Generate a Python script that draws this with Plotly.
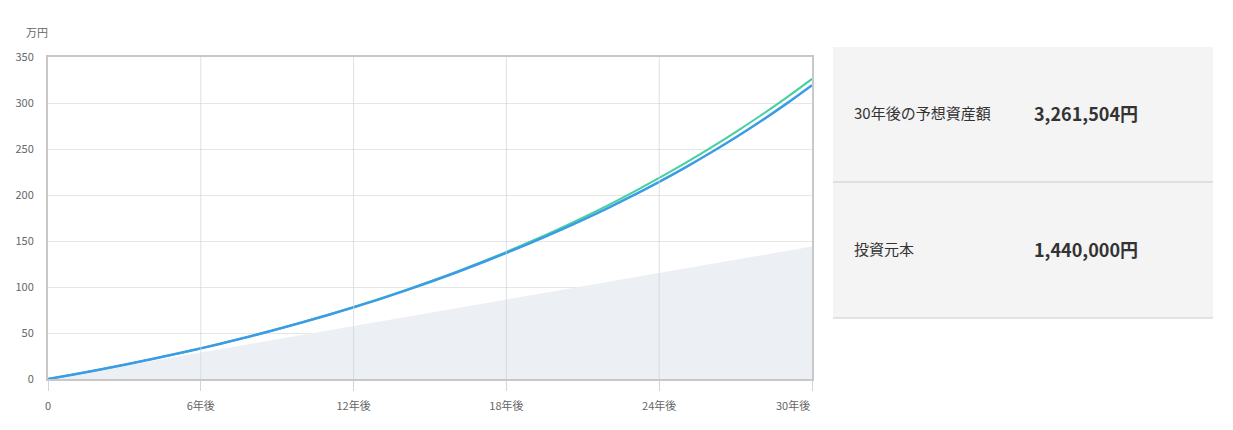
import plotly.graph_objects as go

# ---- data ----
years = list(range(0, 31))
expected_high = [0, 4.9, 10.1, 15.5, 21.2, 27.1, 33.4, 40.0, 46.9, 54.2, 61.8,
                 69.8, 78.2, 87.0, 96.3, 106.0, 116.2, 127.0, 138.2, 150.0, 162.4,
                 175.4, 189.1, 203.5, 218.6, 234.4, 251.0, 268.4, 286.7, 305.9, 326.2]
expected = [0, 4.9, 10.1, 15.5, 21.2, 27.1, 33.3, 39.9, 46.8, 54.0, 61.6,
            69.6, 77.9, 86.6, 95.8, 105.4, 115.5, 126.1, 137.1, 148.5, 160.5,
            173.0, 186.1, 199.8, 214.3, 229.5, 245.6, 262.5, 280.4, 299.3, 319.3]
principal = [0, 4.8, 9.6, 14.4, 19.2, 24.0, 28.8, 33.6, 38.4, 43.2, 48.0,
             52.8, 57.6, 62.4, 67.2, 72.0, 76.8, 81.6, 86.4, 91.2, 96.0,
             100.8, 105.6, 110.4, 115.2, 120.0, 124.8, 129.6, 134.4, 139.2, 144.0]
x_tickvals = [0, 6, 12, 18, 24, 30]
x_ticktext = ["0", "6年後", "12年後", "18年後", "24年後", "30年後"]
y_tickvals = [0, 50, 100, 150, 200, 250, 300, 350]
y_unit = "万円"
panel_labels = ["30年後の予想資産額", "投資元本"]
panel_values = ["3,261,504円", "1,440,000円"]

FONT = "Noto Sans CJK JP, Noto Sans, sans-serif"
W, H = 1233, 430
L, R, T, B = 48, 812, 57, 379  # plot area in pixels


def px(xp):
    return (xp - L) / (R - L)


def py(yp):
    return (B - yp) / (B - T)


fig = go.Figure()
fig.add_trace(go.Scatter(x=years, y=principal, mode="lines", line=dict(width=0, color="rgba(0,0,0,0)"),
                         fill="tozeroy", fillcolor="#eceff4", hoverinfo="skip", showlegend=False))
fig.add_trace(go.Scatter(x=years, y=expected_high, mode="lines", line=dict(width=2, color="#46cf9f", shape="spline"),
                         hoverinfo="skip", showlegend=False))
fig.add_trace(go.Scatter(x=years, y=expected, mode="lines", line=dict(width=2.5, color="#3a9be6", shape="spline"),
                         hoverinfo="skip", showlegend=False))

shapes = []
# vertical grid lines drawn above the fill
for v in x_tickvals[1:-1]:
    shapes.append(dict(type="line", xref="x", yref="y domain", x0=v, x1=v, y0=0, y1=1,
                       line=dict(color="rgba(205,210,222,0.7)", width=1), layer="above"))
# right panel
shapes.append(dict(type="rect", xref="paper", yref="paper", x0=px(833), x1=px(1213), y0=py(318), y1=py(47),
                   fillcolor="#f4f4f4", line=dict(width=0), layer="below"))
for yy in (182, 318):
    shapes.append(dict(type="line", xref="paper", yref="paper", x0=px(833), x1=px(1213), y0=py(yy), y1=py(yy),
                       line=dict(color="#cccccc", width=1)))

annotations = [
    dict(xref="paper", yref="paper", x=px(24), y=py(32), text=y_unit, showarrow=False,
         xanchor="left", yanchor="middle", font=dict(family=FONT, size=11, color="#666666")),
    dict(xref="x", yref="paper", x=x_tickvals[-1], y=py(405), text=x_ticktext[-1], showarrow=False,
         xanchor="right", yanchor="middle", font=dict(family=FONT, size=11, color="#666666")),
]
for lbl, val, yc in zip(panel_labels, panel_values, (112, 248)):
    annotations.append(dict(xref="paper", yref="paper", x=px(852), y=py(yc), text=lbl, showarrow=False,
                            xanchor="left", yanchor="middle", font=dict(family=FONT, size=15, color="#333333")))
    annotations.append(dict(xref="paper", yref="paper", x=px(1032), y=py(yc + 1), text="<b>" + val + "</b>",
                            showarrow=False, xanchor="left", yanchor="middle",
                            font=dict(family=FONT, size=18, color="#333333")))

fig.update_layout(
    width=W, height=H,
    margin=dict(l=L, r=W - R, t=T, b=H - B, pad=0),
    paper_bgcolor="white", plot_bgcolor="white",
    font=dict(family=FONT, size=11, color="#666666"),
    shapes=shapes, annotations=annotations,
    xaxis=dict(range=[0, 30], tickvals=x_tickvals, ticktext=x_ticktext[:-1] + [""],
               showgrid=False, zeroline=False, showline=True, linecolor="#c8c8c8", linewidth=2,
               mirror=True, ticks="outside", ticklen=10, tickcolor="#ccd6eb", tickwidth=1,
               ticklabelstandoff=6, fixedrange=True),
    yaxis=dict(range=[0, 350], tickvals=y_tickvals, showgrid=True, gridcolor="#e6e6e6", gridwidth=1,
               zeroline=False, showline=True, linecolor="#c8c8c8", linewidth=2, mirror=True,
               ticks="", ticklabelstandoff=10, fixedrange=True),
)

fig.write_html("out.html")
